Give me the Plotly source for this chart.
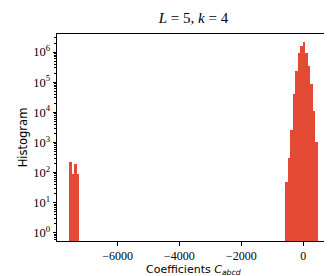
import plotly.graph_objects as go

# Histogram bins (centers) and counts
bin_width = 80.2
left_centers = [-7517, -7437, -7357, -7277]
left_counts = [219, 92, 193, 92]
right_centers = [-539.5, -459.3, -379.1, -298.9, -218.7, -138.5, -58.3,
                 21.9, 102.1, 182.3, 262.5, 342.7, 422.9]
right_counts = [48, 305, 2500, 42000, 230000, 930000, 1650000,
                2100000, 930000, 357000, 84000, 11000, 1000]

x_ticks = [-6000, -4000, -2000, 0]
x_tick_labels = ["\u22126000", "\u22124000", "\u22122000", "0"]
y_ticks = [10**k for k in range(7)]
y_tick_labels = [f"10<sup>{k}</sup>" for k in range(7)]
y_minor = [m * 10**k for k in range(-1, 7) for m in range(2, 10)]

color = "#e24a33"
serif = "Liberation Serif"
sans = "DejaVu Sans"

fig = go.Figure()
fig.add_trace(go.Bar(x=left_centers + right_centers,
                     y=left_counts + right_counts,
                     width=bin_width,
                     marker=dict(color=color, line=dict(width=0)),
                     showlegend=False))

fig.update_layout(
    width=332, height=276,
    margin=dict(l=49, r=10, t=26, b=43),
    plot_bgcolor="white", paper_bgcolor="white",
    bargap=0,
    title=dict(text="<i>L</i> = 5, <i>k</i> = 4", x=0.5585, xanchor="center",
               y=0.965, yanchor="middle",
               font=dict(family=serif, size=15, color="black")),
    annotations=[dict(text="Coefficients <i>C</i><sub><i>abcd</i></sub>",
                      xref="paper", yref="paper", x=0.5, y=-0.138,
                      xanchor="center", yanchor="middle", showarrow=False,
                      font=dict(family=sans, size=11, color="black"))],
)
fig.update_xaxes(
    range=[-7958, 865],
    tickvals=x_ticks, ticktext=x_tick_labels,
    ticks="outside", ticklen=3.5, tickwidth=1, tickcolor="black",
    showline=True, linecolor="black", linewidth=1, mirror=True,
    showgrid=False, zeroline=False,
    tickfont=dict(family=serif, size=12, color="black"),
)
fig.update_yaxes(
    type="log", range=[-0.27, 6.6],
    tickvals=y_ticks, ticktext=y_tick_labels,
    ticks="outside", ticklen=3.5, tickwidth=1, tickcolor="black",
    minor=dict(tickvals=y_minor, ticks="outside", ticklen=2, tickcolor="black"),
    showline=True, linecolor="black", linewidth=1, mirror=True,
    showgrid=False, zeroline=False,
    tickfont=dict(family=serif, size=12.5, color="black"),
    title=dict(text="Histogram", font=dict(family=sans, size=11.5, color="black"),
               standoff=3),
)

fig.write_html("out.html")
